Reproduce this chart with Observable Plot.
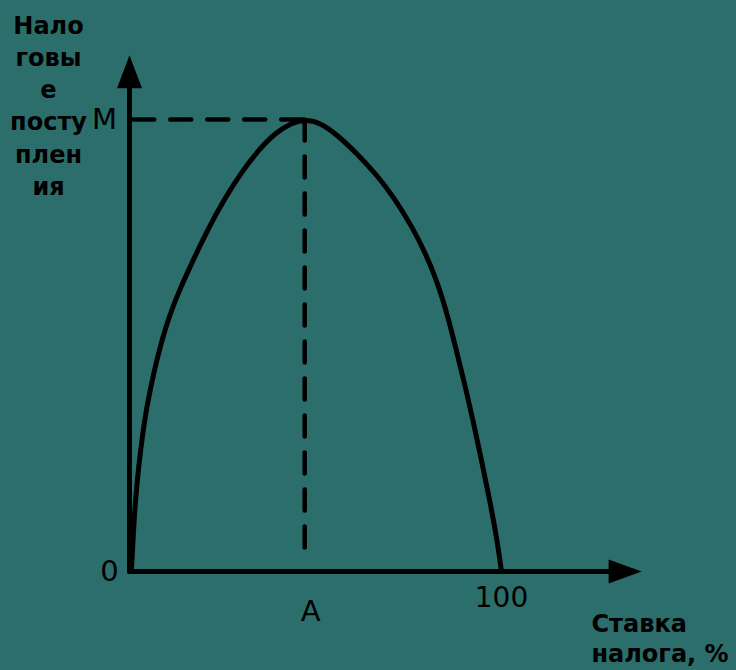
<!DOCTYPE html>
<html>
<head>
<meta charset="utf-8">
<script src="https://cdn.jsdelivr.net/npm/d3@7"></script>
<script src="https://cdn.jsdelivr.net/npm/@observablehq/plot@0.6"></script>
<style>
  html, body { margin: 0; padding: 0; background: #2c6e6b; }
  #chart svg { display: block; }
</style>
</head>
<body>
<div id="chart"></div>
<script>
// Laffer curve: tax rate (%) vs. tax revenue (as % of maximum M)
const rate    = [0.5, 0.9, 1.34, 2.07, 2.96, 4.17, 5.35, 6.69, 7.98, 9.49, 11.26, 13.41, 16.64, 21.32, 25.81, 30.3, 34.76, 39.25, 43.74, 47.3,
                 51.34, 55.83, 61.21, 66.59, 71.05, 76.05, 79.62, 82.2, 84.03, 85.86, 88.09, 90.32, 92.55, 94.81, 97.04, 98.84, 100];
const revenue = [0, 6.19, 12.83, 20.13, 26.77, 34.14, 39.31, 44.47, 48.89, 53.32, 57.74, 62.17, 68.08, 76.17, 82.81, 88.6, 93.3, 97.1, 99.3, 100,
                 99.3, 96.6, 92.41, 87.61, 82.81, 76.17, 70.29, 65.11, 60.69, 55.53, 48.16, 40.77, 32.68, 23.83, 14.98, 6.86, 0];
const peakRate = 47.1;
const peakRevenue = 100;
const xAxisEnd = 128.8;   // base of x-axis arrowhead
const yAxisEnd = 106.9;   // base of y-axis arrowhead
const yTitle = "Нало\nговы\nе\nпосту\nплен\nия";
const xTitle = "Ставка\nналога, %";
const labelM = "M", label0 = "0", labelA = "A", label100 = "100";

const curve = rate.map((r, i) => ({rate: r, revenue: revenue[i]}));

const arrowUp = {draw(ctx) { ctx.moveTo(-12.5, 0); ctx.lineTo(0, -33); ctx.lineTo(12.5, 0); ctx.closePath(); }};
const arrowRight = {draw(ctx) { ctx.moveTo(0, -12); ctx.lineTo(33, 0); ctx.lineTo(0, 12); ctx.closePath(); }};

const ink = "#000";
const regFont = "DejaVu Sans, sans-serif";
const boldFont = "DejaVu Sans, sans-serif";

const chart = Plot.plot({
  width: 736,
  height: 670,
  marginLeft: 129,
  marginRight: 235,
  marginTop: 119,
  marginBottom: 99,
  x: {domain: [0, 100], axis: null},
  y: {domain: [0, 100], axis: null},
  style: {background: "#2c6e6b", fontFamily: regFont, overflow: "visible"},
  marks: [
    // dashed guides
    Plot.line([[1, peakRevenue], [peakRate, peakRevenue]], {stroke: ink, strokeWidth: 4.5, strokeDasharray: "21,16"}),
    Plot.line([[peakRate, peakRevenue], [peakRate, 2.9]], {stroke: ink, strokeWidth: 4.5, strokeDasharray: "21,16"}),
    // axes
    Plot.line([[0, 0], [xAxisEnd, 0]], {stroke: ink, strokeWidth: 5}),
    Plot.line([[0, 0], [0, yAxisEnd]], {stroke: ink, strokeWidth: 5}),
    Plot.dot([[xAxisEnd, 0]], {symbol: arrowRight, fill: ink, stroke: "none"}),
    Plot.dot([[0, yAxisEnd]], {symbol: arrowUp, fill: ink, stroke: "none"}),
    // Laffer curve
    Plot.line(curve, {x: "rate", y: "revenue", curve: "basis", stroke: ink, strokeWidth: 5}),
    // point labels
    Plot.text([labelM], {x: 0, y: peakRevenue, text: d => d, dx: -25, fontSize: 29, fill: ink}),
    Plot.text([label0], {x: 0, y: 0, text: d => d, dx: -20, fontSize: 29, fill: ink}),
    Plot.text([labelA], {x: peakRate, y: 0, text: d => d, dx: 6, dy: 40, fontSize: 29, fill: ink}),
    Plot.text([label100], {x: 100, y: 0, text: d => d, dy: 27, fontSize: 28, fill: ink}),
    // axis titles
    Plot.text([yTitle], {frameAnchor: "top-left", text: d => d, dx: -81, dy: -15.5, fontSize: 24, fontWeight: "bold",
      fontFamily: boldFont, lineHeight: 1.34, lineAnchor: "middle", textAnchor: "middle", fill: ink}),
    Plot.text([xTitle], {frameAnchor: "bottom-right", text: d => d, dx: 90, dy: 66, fontSize: 24, fontWeight: "bold",
      fontFamily: boldFont, lineHeight: 1.25, lineAnchor: "middle", textAnchor: "start", fill: ink})
  ]
});
document.getElementById("chart").append(chart);
</script>
</body>
</html>
